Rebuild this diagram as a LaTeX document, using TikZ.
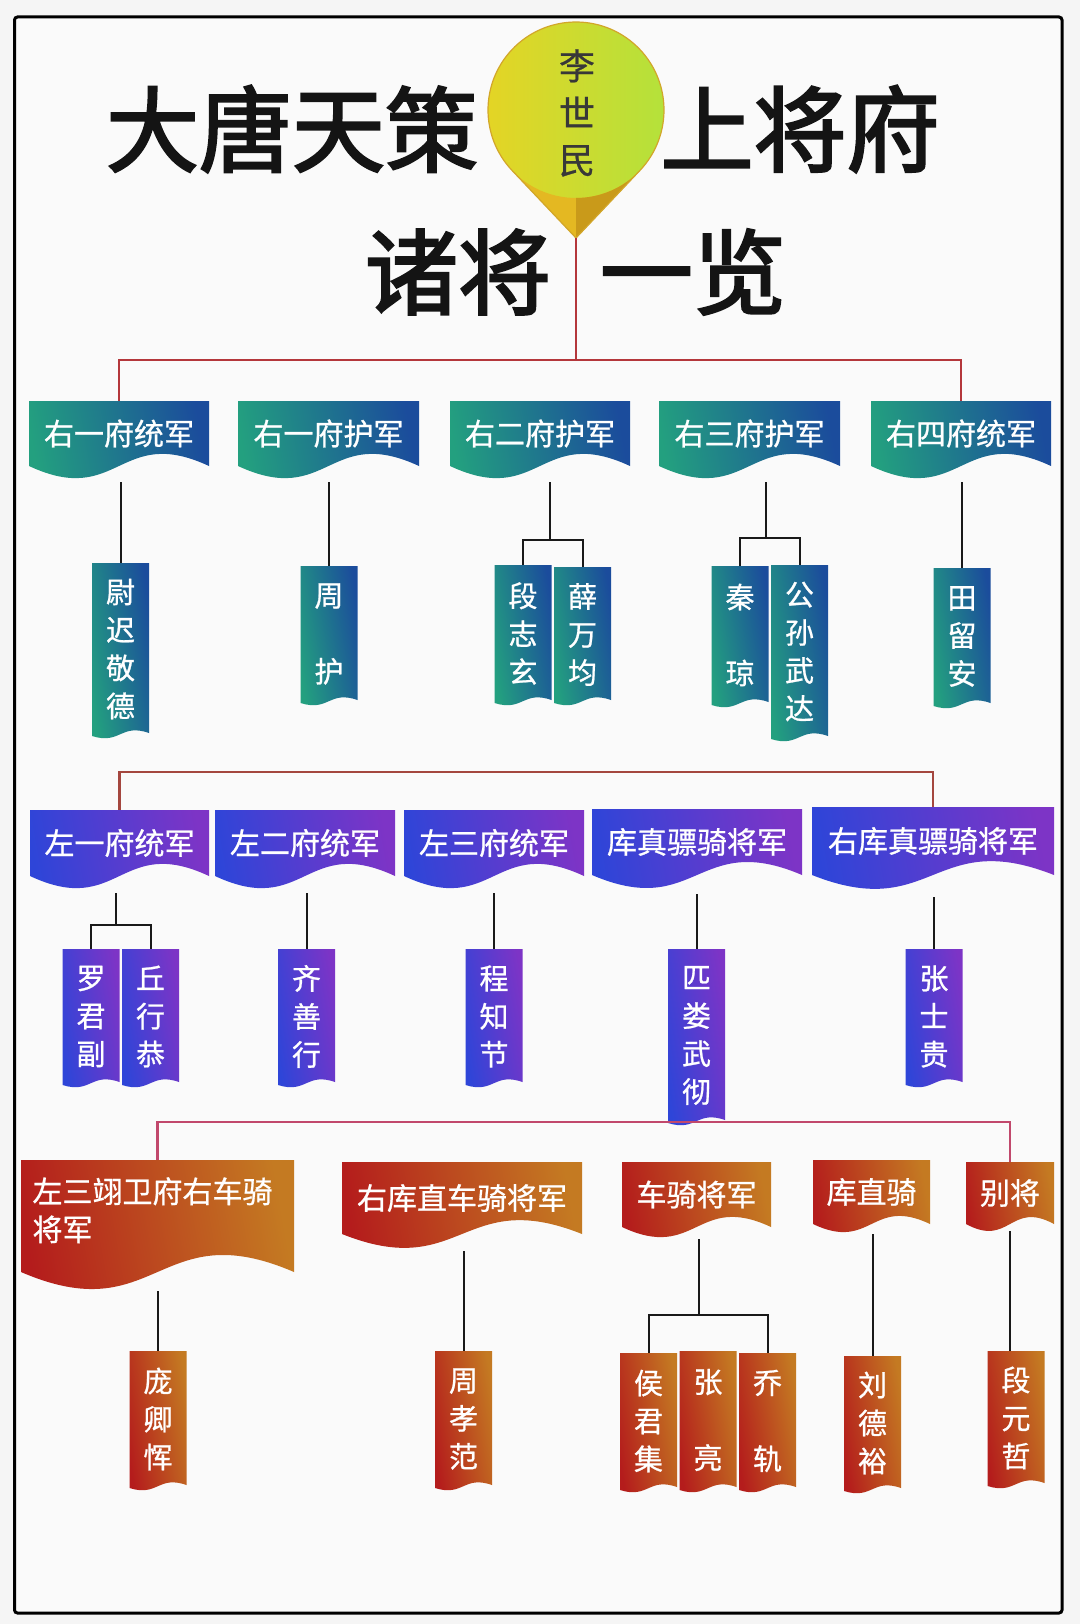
\documentclass[tikz,border=0pt]{standalone}
\usepackage{fontspec}
\newfontfamily\cjk{Noto Sans CJK SC}
\newfontfamily\cjkm{Noto Sans CJK SC}[FakeBold=0.8]
\newfontfamily\cjkt{Noto Sans CJK SC}[FakeBold=2.5]
\usetikzlibrary{calc}

\definecolor{tealL}{HTML}{23A07F}
\definecolor{tealR}{HTML}{1B4C9C}
\definecolor{purL}{HTML}{2E45D8}
\definecolor{purR}{HTML}{7D34C6}
\definecolor{redL}{HTML}{B41C1C}
\definecolor{redR}{HTML}{C47A22}
\definecolor{lineA}{HTML}{B4373B}
\definecolor{lineB}{HTML}{A4463E}
\definecolor{lineC}{HTML}{C1486C}
\definecolor{pinL}{HTML}{E6D424}
\definecolor{pinR}{HTML}{B2E23C}
\definecolor{pinGold}{HTML}{E4B822}
\definecolor{pinDark}{HTML}{C99A1A}
\definecolor{pinEdge}{HTML}{D2A62A}

% banner: name, x1, top, x2, height, wave, shading style, node options, text
\newcommand\banner[9]{%
  \path[#7] (#2,#3) -- (#4,#3) -- (#4,{#3+#5})
    .. controls ({(#2+#4)/2},{#3+#5-#6}) and ({(#2+#4)/2},{#3+#5+#6}) .. (#2,{#3+#5}) -- cycle;
  \node[bantext, minimum width={#4-#2}, minimum height=#5, #8] (#1) at ({(#2+#4)/2},{#3+#5/2}) {#9};
}
% person box: name, centre x, top, bottom, shading style, text
\newcommand\pbox[6]{%
  \path[#5] ({#2-28.5},#3) -- ({#2+28.5},#3) -- ({#2+28.5},{#4-2})
    .. controls (#2,{#4-12}) and (#2,{#4+10}) .. ({#2-28.5},{#4+1}) -- cycle;
  \node[ptext, minimum height={#4-#3}] (#1) at (#2,{(#3+#4)/2}) {#6};
}

\begin{document}
\begin{tikzpicture}[x=1pt,y=-1pt,
  bantext/.style={font=\cjkm\fontsize{30}{38}\selectfont, text=white, align=center, inner sep=0pt},
  ptext/.style={font=\cjkm\fontsize{29}{38}\selectfont, text=white, align=center, inner sep=0pt, minimum width=57pt},
  titlefont/.style={font=\cjkt\fontsize{93}{93}\selectfont, inner sep=0pt, text=black!92},
  shT/.style={left color=tealL, right color=tealR, shading angle=100},
  shP/.style={left color=purL, right color=purR, shading angle=100},
  shR/.style={left color=redL, right color=redR, shading angle=100},
  conn/.style={line width=2pt, black!90},
  trunkA/.style={line width=2.4pt, lineA},
  trunkB/.style={line width=2.4pt, lineB},
  trunkC/.style={line width=2.4pt, lineC}]

\useasboundingbox (0,0) rectangle (1080,1624);
\fill[white!96!black] (0,0) rectangle (1080,1624);
\draw[line width=3pt, fill=white!98!black, rounded corners=3pt] (14.5,17) rectangle (1062,1613);

% ---------- title ----------
\node[titlefont] (t1) at (292,129) {大唐天策};
\node[titlefont] (t2) at (800,129) {上将府};
\node[titlefont] (t3) at (458,272) {诸将};
\node[titlefont] (t4) at (693,272) {一览};

% ---------- pin ----------
\coordinate (pc) at (576,110);
\coordinate (tip) at (576,238);
\shade[left color=pinL, right color=pinR] (tip) -- ($(pc)+(43.4:88)$)
  arc[start angle=43.4, end angle=-223.4, radius=88] -- cycle;
\fill[pinGold] (tip) -- ($(pc)+(43.4:88)$) arc[start angle=43.4, end angle=136.6, radius=88] -- cycle;
\fill[pinDark] (tip) -- ($(pc)+(43.4:88)$) arc[start angle=43.4, end angle=90, radius=88] -- cycle;
\draw[pinEdge, line width=1.2pt] (tip) -- ($(pc)+(43.4:88)$)
  arc[start angle=43.4, end angle=-223.4, radius=88] -- cycle;
\node[font=\cjkm\fontsize{36}{47}\selectfont, text=black!78, align=center, inner sep=0pt] (lsm) at (577,113) {李\\世\\民};

% ---------- row 1 ----------
\banner{b11}{29}{401}{209}{65}{42}{shT}{}{右一府统军}
\banner{b12}{238}{401}{419}{65}{42}{shT}{}{右一府护军}
\banner{b13}{450}{401}{630}{65}{42}{shT}{}{右二府护军}
\banner{b14}{659}{401}{840}{65}{42}{shT}{}{右三府护军}
\banner{b15}{871}{401}{1051}{65}{42}{shT}{}{右四府统军}

\coordinate (hub1) at (576,360);
\draw[trunkA] (tip) -- (hub1);
\draw[trunkA] (b11.north) -- (b11.north |- hub1) -- (b15.north |- hub1) -- (b15.north);

\pbox{p11}{120.5}{563}{735}{shT}{尉\\迟\\敬\\德}
\pbox{p12}{329}{566}{702}{shT}{周\\[38pt]护}
\pbox{p13a}{523}{565}{702}{shT}{段\\志\\玄}
\pbox{p13b}{582.5}{567}{702}{shT}{薛\\万\\均}
\pbox{p14a}{740}{566}{704}{shT}{秦\\[38pt]琼}
\pbox{p14b}{799.5}{565}{738}{shT}{公\\孙\\武\\达}
\pbox{p15}{962}{568}{705}{shT}{田\\留\\安}

\coordinate (k11) at (120.5,482);
\coordinate (k12) at (329,482);
\coordinate (k13) at (550,482);
\coordinate (j13) at (550,540);
\coordinate (k14) at (766,482);
\coordinate (j14) at (766,538);
\coordinate (k15) at (962,482);
\draw[conn] (k11) -- (p11.north);
\draw[conn] (k12) -- (p12.north);
\draw[conn] (k13) -- (j13);
\draw[conn] (p13a.north) |- (j13) -| (p13b.north);
\draw[conn] (k14) -- (j14);
\draw[conn] (p14a.north) |- (j14) -| (p14b.north);
\draw[conn] (k15) -- (p15.north);

% ---------- row 2 ----------
\banner{b21}{30}{810}{209}{66}{42}{shP}{}{左一府统军}
\banner{b22}{215}{810}{395}{66}{42}{shP}{}{左二府统军}
\banner{b23}{404}{810}{584}{66}{42}{shP}{}{左三府统军}
\banner{b24}{592}{809}{802}{66}{45}{shP}{}{库真骠骑将军}
\banner{b25}{812}{807}{1054}{68}{48}{shP}{}{右库真骠骑将军}

\draw[trunkB] (b21.north) -- ++(0,-38) -| (b25.north);

\pbox{p21a}{91}{949}{1084}{shP}{罗\\君\\副}
\pbox{p21b}{150.5}{949}{1084}{shP}{丘\\行\\恭}
\pbox{p22}{306.5}{949}{1084}{shP}{齐\\善\\行}
\pbox{p23}{494}{949}{1084}{shP}{程\\知\\节}
\pbox{p24}{696.5}{949}{1122}{shP}{匹\\娄\\武\\彻}
\pbox{p25}{934}{949}{1084}{shP}{张\\士\\贵}

\coordinate (k21) at (116,893);
\coordinate (j21) at (116,925);
\coordinate (k22) at (306.5,893);
\coordinate (k23) at (494,893);
\coordinate (k24) at (696.5,894);
\coordinate (k25) at (934,897);
\draw[conn] (k21) -- (j21);
\draw[conn] (p21a.north) |- (j21) -| (p21b.north);
\draw[conn] (k22) -- (p22.north);
\draw[conn] (k23) -- (p23.north);
\draw[conn] (k24) -- (p24.north);
\draw[conn] (k25) -- (p25.north);

% ---------- row 3 ----------
\banner{b31}{21}{1160}{294}{112}{59}{shR}{align=left, text width=250pt, text depth=52pt}{左三翊卫府右车骑\\将军}
\banner{b32}{342}{1162}{582}{72}{48}{shR}{}{右库直车骑将军}
\banner{b33}{622}{1162}{771}{65}{35}{shR}{}{车骑将军}
\banner{b34}{813}{1160}{930}{64}{28}{shR}{}{库直骑}
\banner{b35}{966}{1162}{1054}{62}{24}{shR}{}{别将}

\draw[trunkC] (b31.north) -- ++(0,-38) -| (b35.north);

\pbox{p31}{158}{1351}{1487}{shR}{庞\\卿\\恽}
\pbox{p32}{463.5}{1351}{1487}{shR}{周\\孝\\范}
\pbox{p33a}{648.5}{1353}{1489}{shR}{侯\\君\\集}
\pbox{p33b}{708}{1351}{1489}{shR}{张\\[38pt]亮}
\pbox{p33c}{767.5}{1353}{1489}{shR}{乔\\[38pt]轨}
\pbox{p34}{872.5}{1356}{1490}{shR}{刘\\德\\裕}
\pbox{p35}{1016}{1351}{1485}{shR}{段\\元\\哲}

\coordinate (k31) at (158,1291);
\coordinate (k32) at (463.5,1251);
\coordinate (k33) at (699,1239);
\coordinate (j33) at (699,1315);
\coordinate (k34) at (872.5,1234);
\coordinate (k35) at (1010,1231);
\draw[conn] (k31) -- (p31.north);
\draw[conn] (k32) -- (p32.north);
\draw[conn] (k33) -- (j33);
\draw[conn] (p33a.north) |- (j33) -| (p33c.north);
\draw[conn] (k34) -- (p34.north);
\draw[conn] (k35) -- (k35 |- p35.north);

\end{tikzpicture}
\end{document}
